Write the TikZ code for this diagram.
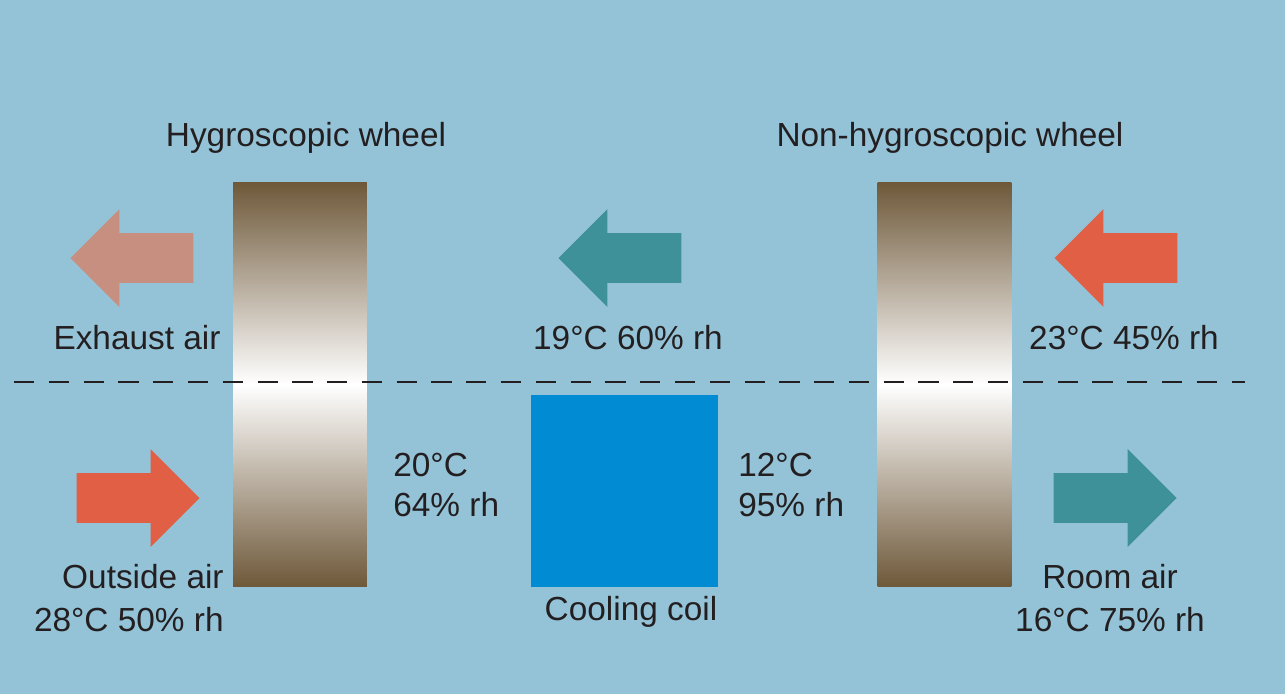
\documentclass[tikz,border=0pt]{standalone}
\usepackage{fontspec}
\setmainfont{Liberation Sans}
\usepackage{xcolor}
\usepackage{tikz}
\usetikzlibrary{shapes.arrows}
\definecolor{sky}{HTML}{94C3D8}
\definecolor{txt}{HTML}{231F20}
\definecolor{wheelbrown}{HTML}{6E5839}
\definecolor{coilblue}{HTML}{008BD2}
\definecolor{warm}{HTML}{E05F45}
\definecolor{warmsoft}{HTML}{C68F80}
\definecolor{teal}{HTML}{3E9199}

\begin{document}
\begin{tikzpicture}[x=0.02cm,y=-0.02cm,
  wheel/.style={draw=none,minimum width=2.68cm,minimum height=8.1cm,
    top color=wheelbrown,bottom color=wheelbrown,middle color=white},
  airarrow/.style={single arrow,draw=none,inner sep=0pt,text height=0.98cm,text depth=0pt,
    text width=0pt,minimum height=2.46cm,minimum width=1.94cm,
    single arrow head extend=0.48cm,single arrow head indent=0pt,anchor=tip},
  lbl/.style={text=txt,font=\fontsize{19}{23}\selectfont,inner sep=0pt,align=center}
]
  \fill[sky] (0,0) rectangle (1285,694);
  \useasboundingbox (0,0) rectangle (1285,694);
  % wheels and coil
  \node[wheel] (hyg) at (300,384.5) {};
  \node[wheel] (nonhyg) at (944.5,384.5) {};
  \node[fill=coilblue,minimum width=3.74cm,minimum height=3.84cm] (coil) at (624.5,491) {};
  % dividing line
  \coordinate (dl) at (14,382);
  \coordinate (dr) at (1245,382);
  \draw[txt,line width=1.2pt,dash pattern=on 11.5pt off 8.3pt] (dl) -- (dr);
  % air streams
  \node[airarrow,fill=warmsoft,shape border rotate=180] (exh) at (70,258) {};
  \node[airarrow,fill=teal,shape border rotate=180] (ret) at (558,258) {};
  \node[airarrow,fill=warm,shape border rotate=180] (room) at (1054,258) {};
  \node[airarrow,fill=warm] (out) at (200,498) {};
  \node[airarrow,fill=teal] (sup) at (1177,498) {};
  % labels
  \node[lbl] (thyg) at (306,138) {Hygroscopic wheel};
  \node[lbl] (tnon) at (950,138) {Non-hygroscopic wheel};
  \node[lbl] (texh) at (137,338) {Exhaust air};
  \node[lbl] (tret) at (628,338) {19°C 60\% rh};
  \node[lbl] (troom) at (1124,338) {23°C 45\% rh};
  \node[lbl,anchor=west,align=left] (tmid) at (393,485) {20°C\\64\% rh};
  \node[lbl,anchor=west,align=left] (tcold) at (738,485) {12°C\\95\% rh};
  \node[lbl,anchor=east,align=right,font=\fontsize{19}{24.5}\selectfont] (tout) at (224,598) {Outside air\\28°C 50\% rh};
  \node[lbl] (tcoil) at (631,612) {Cooling coil};
  \node[lbl,font=\fontsize{19}{24.5}\selectfont] (tsup) at (1110,598) {Room air\\16°C 75\% rh};
\end{tikzpicture}
\end{document}
